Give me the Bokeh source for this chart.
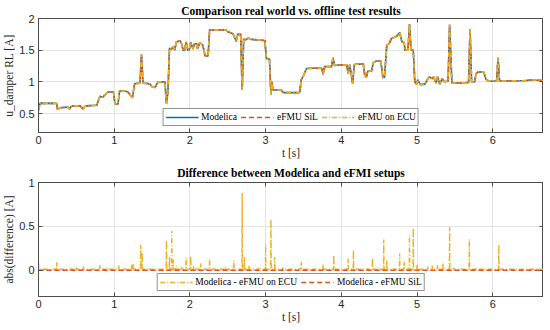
from bokeh.plotting import figure
from bokeh.layouts import column
from bokeh.models import (FixedTicker, NumeralTickFormatter, Legend, LegendItem,
                          ColumnDataSource, LinearAxis)
from bokeh.embed import file_html
from bokeh.resources import INLINE

# ---------------- data ----------------
t_top = [0.0, 0.02, 0.24, 0.25, 0.28, 0.39, 0.41, 0.43, 0.46, 0.55, 0.59, 0.61, 0.63, 0.77,
         0.81, 0.85, 0.9, 0.92, 0.99, 1.01, 1.05, 1.07, 1.14, 1.18, 1.22, 1.24, 1.27, 1.34,
         1.36, 1.38, 1.47, 1.5, 1.54, 1.56, 1.58, 1.67, 1.69, 1.71, 1.73, 1.76, 1.78, 1.8,
         1.82, 1.87, 1.89, 1.91, 1.93, 1.95, 1.97, 1.99, 2.01, 2.04, 2.06, 2.09, 2.1, 2.13,
         2.17, 2.2, 2.24, 2.26, 2.48, 2.5, 2.57, 2.61, 2.63, 2.67, 2.69, 2.71, 2.73, 2.77,
         2.81, 2.94, 2.99, 3.01, 3.05, 3.07, 3.08, 3.1, 3.21, 3.23, 3.45, 3.47, 3.5, 3.54,
         3.74, 3.76, 3.78, 3.87, 3.89, 3.91, 4.07, 4.09, 4.11, 4.15, 4.17, 4.2, 4.29, 4.31,
         4.33, 4.35, 4.4, 4.42, 4.46, 4.52, 4.55, 4.57, 4.6, 4.63, 4.66, 4.73, 4.77, 4.8,
         4.83, 4.84, 4.88, 4.9, 4.92, 4.95, 4.97, 4.99, 5.01, 5.04, 5.1, 5.12, 5.16, 5.2,
         5.22, 5.25, 5.27, 5.3, 5.33, 5.36, 5.41, 5.43, 5.46, 5.68, 5.7, 5.72, 5.76, 5.78,
         5.81, 5.88, 5.91, 5.95, 6.05, 6.07, 6.09, 6.45, 6.47, 6.67]
u_damper = [0.55, 0.66, 0.66, 0.56, 0.59, 0.6, 0.57, 0.61, 0.62, 0.62, 0.57, 0.61, 0.62, 0.63,
            0.77, 0.76, 0.82, 0.84, 0.84, 0.65, 0.65, 0.85, 0.86, 0.84, 0.78, 0.75, 0.97, 0.98,
            1.43, 0.98, 0.97, 0.92, 0.91, 0.96, 1.0, 1.0, 0.65, 0.84, 1.53, 1.52, 1.56, 1.5,
            1.63, 1.65, 1.6, 1.5, 1.5, 1.63, 1.5, 1.5, 1.62, 1.52, 1.6, 1.6, 1.52, 1.62,
            1.58, 1.41, 1.41, 1.82, 1.82, 1.79, 1.76, 1.64, 1.75, 1.75, 0.87, 1.68, 1.66, 1.69,
            1.67, 1.66, 1.65, 1.37, 1.36, 0.8, 1.0, 0.87, 0.87, 0.83, 0.83, 1.03, 1.1, 1.21,
            1.22, 1.12, 1.24, 1.24, 1.38, 1.26, 1.27, 1.13, 1.27, 0.97, 1.27, 1.28, 1.28, 1.1,
            1.07, 1.17, 1.17, 1.3, 1.33, 1.33, 1.07, 1.07, 1.58, 1.6, 1.68, 1.72, 1.78, 1.63,
            1.62, 1.5, 1.5, 1.91, 1.5, 1.5, 1.0, 0.96, 1.03, 0.96, 0.96, 1.0, 1.08, 1.05,
            1.08, 0.98, 1.08, 0.96, 1.05, 1.0, 1.01, 1.9, 0.98, 0.99, 1.83, 1.0, 1.0, 1.13,
            1.16, 1.15, 1.04, 1.01, 1.01, 1.38, 1.01, 1.02, 1.03, 1.02]

# difference Modelica - eFMU on ECU: spike times and peak heights, baseline level
spike_t = [0.0, 0.24, 0.5, 0.59, 0.81, 0.91, 1.06, 1.18, 1.23, 1.25, 1.35, 1.37, 1.44, 1.69,
           1.73, 1.76, 1.78, 1.82, 1.89, 1.95, 2.01, 2.05, 2.14, 2.26, 2.33, 2.47, 2.58, 2.69,
           2.72, 2.78, 2.91, 3.0, 3.07, 3.12, 3.23, 3.47, 3.56, 3.76, 3.9, 4.09, 4.16, 4.35,
           4.41, 4.49, 4.56, 4.6, 4.69, 4.77, 4.83, 4.9, 4.95, 5.0, 5.14, 5.2, 5.27, 5.34,
           5.43, 5.48, 5.69, 5.78, 5.87, 6.08, 6.35, 6.5]
spike_h = [0.1, 0.09, 0.04, 0.04, 0.06, 0.03, 0.05, 0.02, 0.06, 0.08, 0.29, 0.2, 0.02, 0.34,
           0.15, 0.45, 0.12, 0.05, 0.05, 0.14, 0.16, 0.05, 0.08, 0.14, 0.02, 0.04, 0.11, 0.88,
           0.15, 0.05, 0.03, 0.29, 0.58, 0.15, 0.03, 0.1, 0.02, 0.07, 0.17, 0.13, 0.23, 0.02,
           0.14, 0.03, 0.35, 0.11, 0.02, 0.19, 0.1, 0.4, 0.48, 0.06, 0.04, 0.05, 0.06, 0.08,
           0.49, 0.03, 0.35, 0.03, 0.02, 0.29, 0.01, 0.01]
ecu_base = 0.01
t_sil = [0.0, 6.67]
diff_sil = [0.0, 0.0]

x_ticks = [0, 1, 2, 3, 4, 5, 6]
y1_ticks = [0.5, 1, 1.5, 2]
y2_ticks = [0, 0.5, 1]

# ---------------- styles ----------------
BLUE = "#0072BD"
RED = "#D95319"
YEL = "#EDB120"
SERIF = "Liberation Serif"
SANS = "Liberation Sans"
AX = "#4d4d4d"

# build the spike line for the ECU difference from the read spike list
ecu_t, ecu_v = [], []
for t, h in zip(spike_t, spike_h):
    ecu_t += [t - 0.004, t, t + 0.004]
    ecu_v += [ecu_base, h, ecu_base]
ecu_t = [0.0] + ecu_t + [6.67]
ecu_v = [ecu_base] + ecu_v + [ecu_base]


def mirror_axis(ticks):
    return LinearAxis(ticker=FixedTicker(ticks=ticks), major_label_text_font_size="1px",
                      major_label_text_color=None, major_label_standoff=0,
                      major_tick_in=4, major_tick_out=0,
                      minor_tick_line_color=None, axis_line_color=AX,
                      major_tick_line_color=AX, axis_label=None)


def style(p, yt, ylabel, title, title_standoff):
    p.title.text = title
    p.title.align = "center"
    p.title.text_font = SERIF
    p.title.text_font_style = "bold"
    p.title.text_font_size = "11.5px"
    p.title.text_color = "#000000"
    p.title.offset = 0
    p.title.standoff = title_standoff
    p.xaxis.ticker = FixedTicker(ticks=x_ticks)
    p.yaxis.ticker = FixedTicker(ticks=yt)
    p.yaxis.formatter = NumeralTickFormatter(format="0.[0]")
    for ax in (p.xaxis[0], p.yaxis[0]):
        ax.axis_line_color = AX
        ax.major_tick_line_color = AX
        ax.major_tick_in = 4
        ax.major_tick_out = 0
        ax.minor_tick_line_color = None
        ax.major_label_text_font = SANS
        ax.major_label_text_font_size = "11px"
        ax.major_label_text_color = "#262626"
        ax.axis_label_text_font = SERIF
        ax.axis_label_text_font_size = "11.5px"
        ax.axis_label_text_font_style = "normal"
        ax.axis_label_text_color = "#262626"
        ax.axis_label_standoff = 0
    p.xaxis.major_label_standoff = 3
    p.yaxis.major_label_standoff = 4
    p.yaxis.axis_label_standoff = 1
    p.xaxis.axis_label = "t [s]"
    p.yaxis.axis_label = ylabel
    p.add_layout(mirror_axis(x_ticks), "above")
    p.add_layout(mirror_axis(yt), "right")
    p.grid.grid_line_color = "#e3e3e3"
    p.outline_line_color = AX
    p.outline_line_alpha = 1
    p.background_fill_color = "white"
    p.border_fill_color = "white"


p1 = figure(frame_width=505, frame_height=114, x_range=(0, 6.67), y_range=(0.2, 2.0),
            output_backend="svg", toolbar_location=None, min_border_left=0,
            min_border_right=0, min_border_top=14, min_border_bottom=27)
style(p1, y1_ticks, "u_damper RL [A]", "Comparison real world vs. offline test results", 4)
src = ColumnDataSource(dict(t=t_top, v=u_damper))
r1 = p1.line("t", "v", source=src, line_color=BLUE, line_width=1.6)
r2 = p1.line("t", "v", source=src, line_color=RED, line_width=1.6, line_dash="5 3")
r3 = p1.line("t", "v", source=src, line_color=YEL, line_width=1.6, line_dash="5 2 1 2")
leg1 = Legend(items=[LegendItem(label="Modelica", renderers=[r1]),
                     LegendItem(label="eFMU SiL", renderers=[r2]),
                     LegendItem(label="eFMU on ECU", renderers=[r3])],
              location="bottom_center", orientation="horizontal", margin=6)

p2 = figure(frame_width=505, frame_height=114, x_range=(0, 6.67), y_range=(-0.3, 1.0),
            output_backend="svg", toolbar_location=None, min_border_left=0,
            min_border_right=0, min_border_top=18, min_border_bottom=26)
style(p2, y2_ticks, "abs(difference) [A]", "Difference between Modelica and eFMI setups", 7)
q1 = p2.line(ecu_t, ecu_v, line_color=YEL, line_width=1.4, line_dash="5 2 1 2")
q2 = p2.line(t_sil, diff_sil, line_color=RED, line_width=1.6, line_dash="5 3")
leg2 = Legend(items=[LegendItem(label="Modelica - eFMU on ECU", renderers=[q1]),
                     LegendItem(label="Modelica - eFMU SiL", renderers=[q2])],
              location="bottom_center", orientation="horizontal", margin=5)

for p, lg in ((p1, leg1), (p2, leg2)):
    lg.label_text_font = SERIF
    lg.label_text_font_size = "9.5px"
    lg.label_text_color = "#000000"
    lg.glyph_width = 33
    lg.glyph_height = 12
    lg.label_height = 12
    lg.label_standoff = 3
    lg.spacing = 4
    lg.padding = 2
    lg.border_line_color = "#262626"
    lg.border_line_width = 1
    lg.background_fill_alpha = 1
    p.add_layout(lg, "center")

layout = column(p1, p2, spacing=0)
open("out.html", "w").write(file_html(layout, INLINE))
